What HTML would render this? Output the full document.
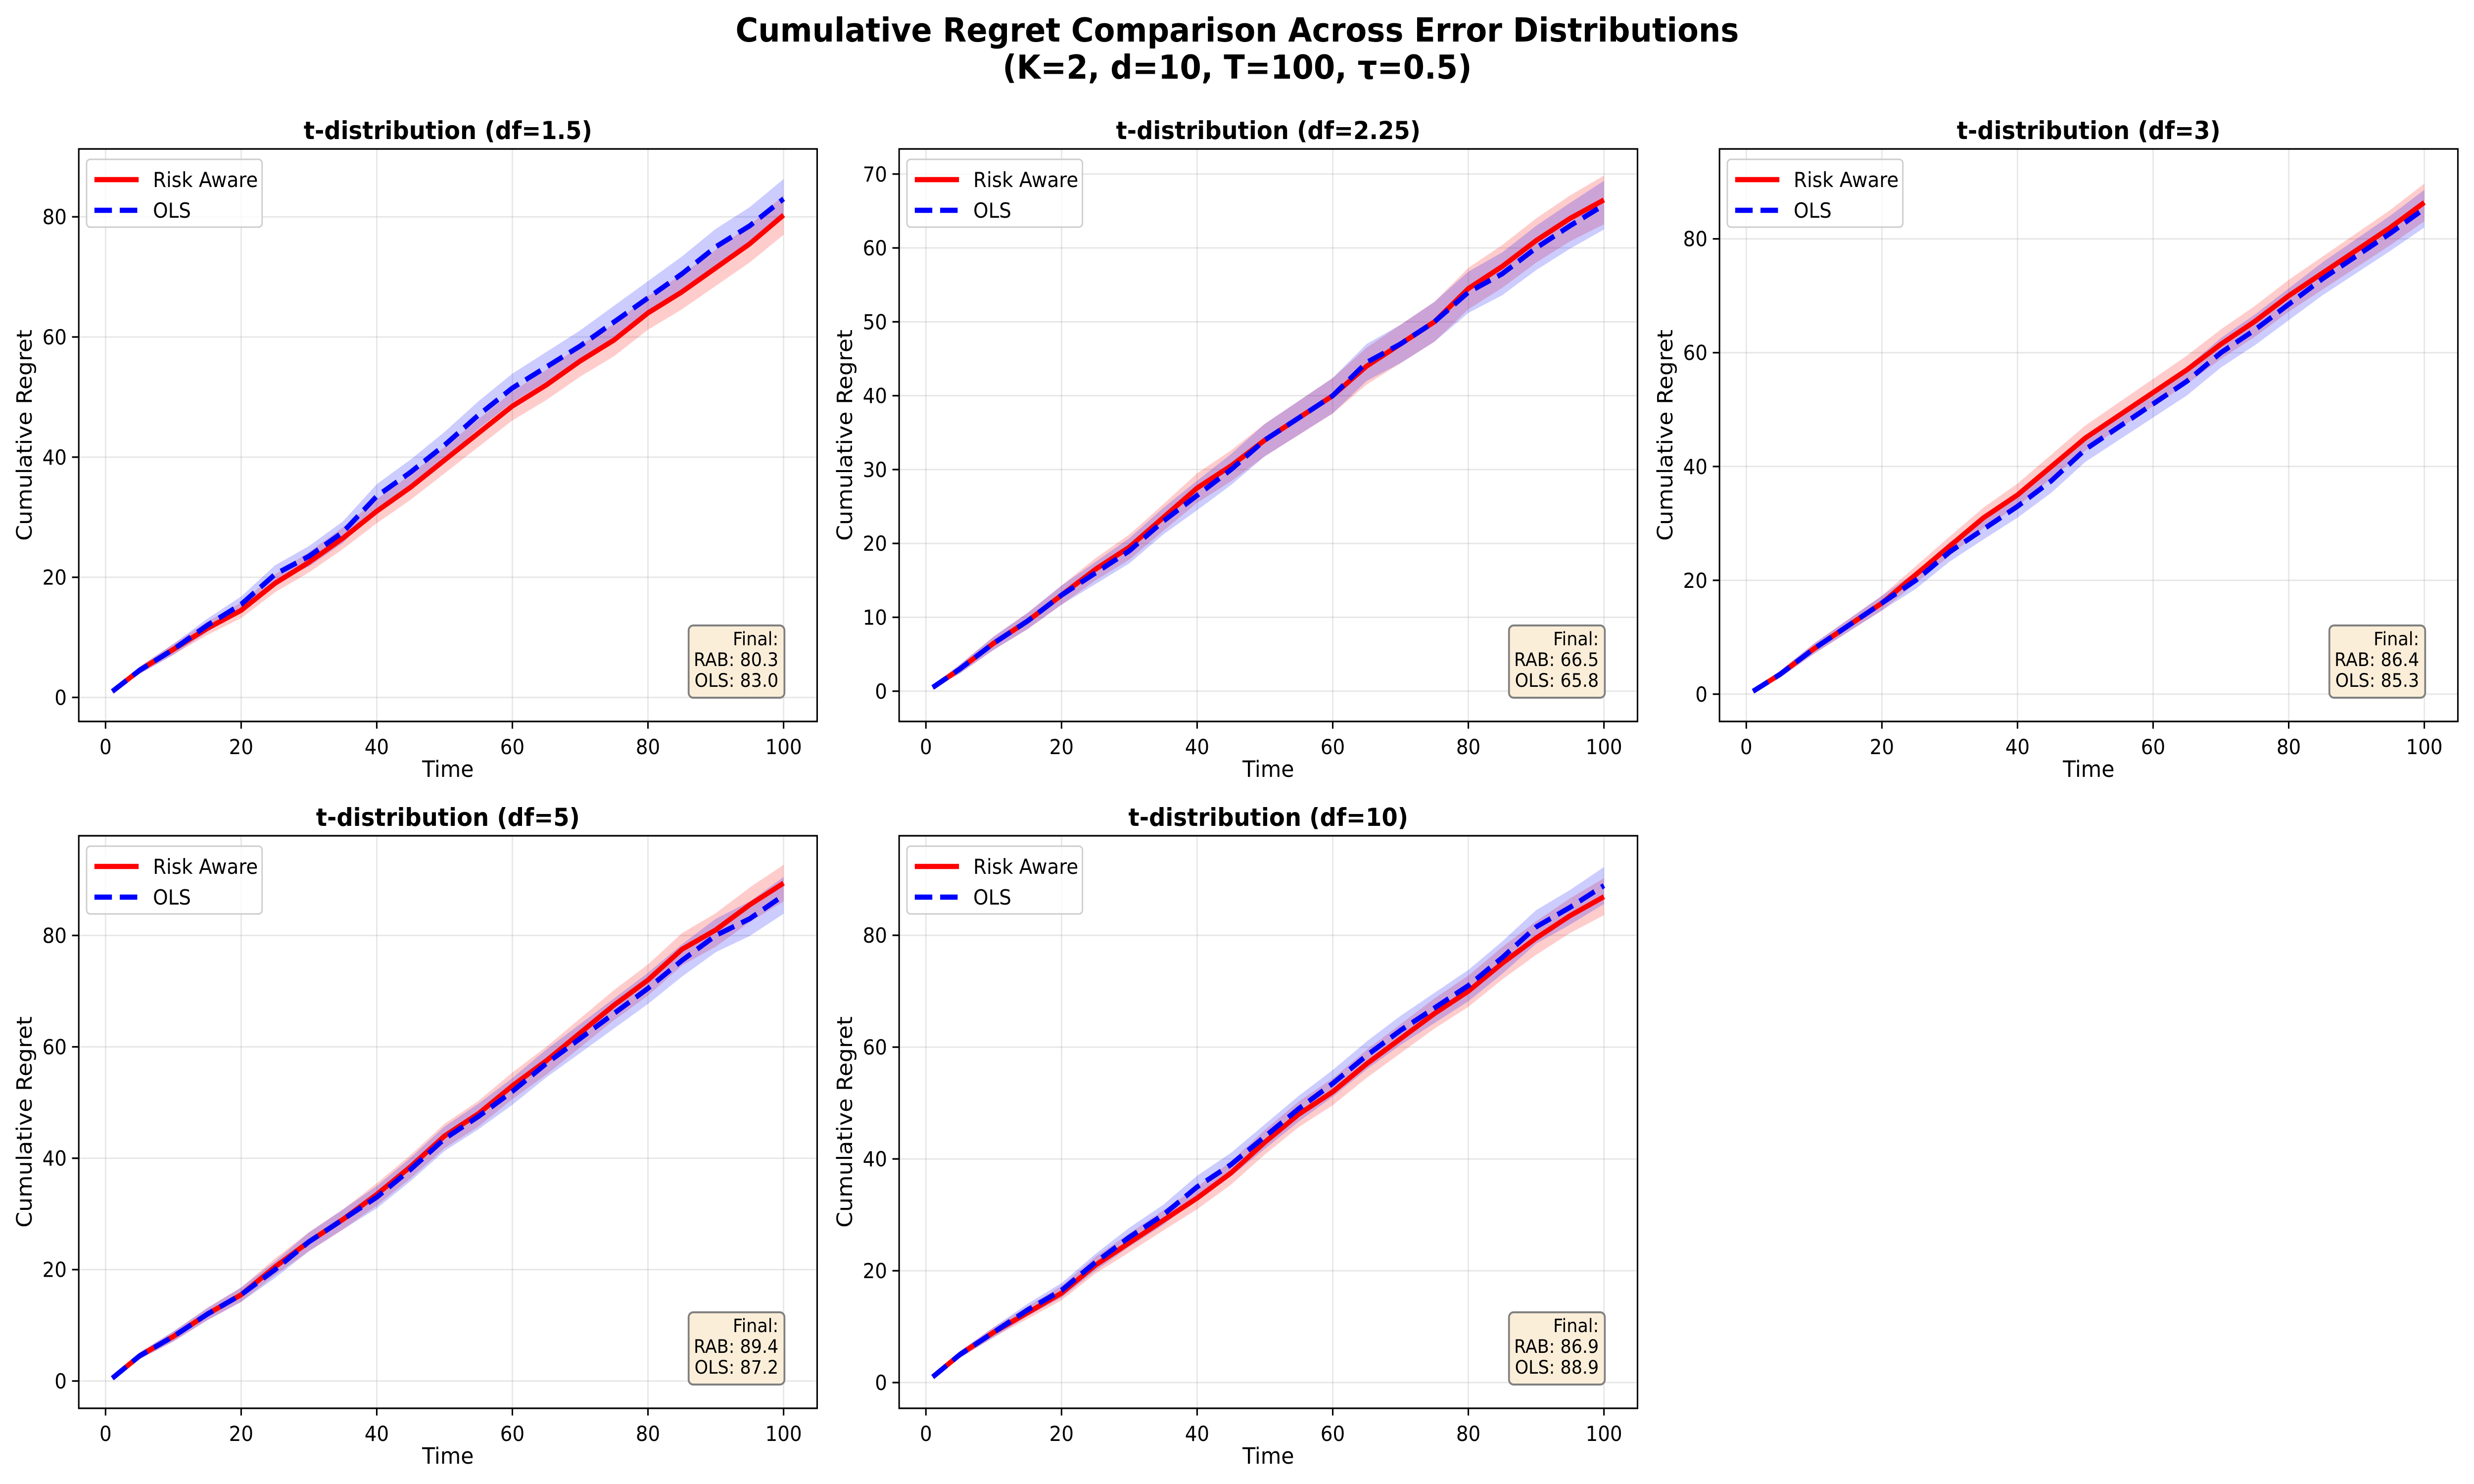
<!DOCTYPE html>
<html><head><meta charset="utf-8">
<style>
html,body{margin:0;padding:0;background:#fff;overflow:hidden;width:100%;height:100%;}
svg{display:block;width:100vw;height:100vh;font-family:"DejaVu Sans","Liberation Sans",sans-serif;}
</style></head>
<body>
<svg id="fig" viewBox="0 0 5371 2999" preserveAspectRatio="none" xmlns="http://www.w3.org/2000/svg">
<rect width="5371" height="2999" fill="#fff"/>
<text x="2686" y="84" text-anchor="middle" font-size="67" font-weight="bold">Cumulative Regret Comparison Across Error Distributions</text>
<text x="2686" y="159" text-anchor="middle" font-size="67" font-weight="bold">(K=2, d=10, T=100, τ=0.5)</text>
</svg>
<script>
const times = [1,5,10,15,20,25,30,35,40,45,50,55,60,65,70,75,80,85,90,95,100];
const titles = ["t-distribution (df=1.5)","t-distribution (df=2.25)","t-distribution (df=3)","t-distribution (df=5)","t-distribution (df=10)"];
const riskAware1 = [1,4.5,8,11.5,14.5,19,22.5,26.5,31,35,39.5,44,48.5,52,56,59.5,64,67.5,71.5,75.5,80.3];
const ols1 = [1,4.5,8,12,15.5,20.5,23.5,27.5,33.5,37.5,42,47,51.5,55,58.5,62.5,66.5,70.5,75,78.5,83.0];
const riskAware2 = [0.5,3,6.5,9.5,13,16.5,19.5,23.5,27.5,30.5,34,37,40,44,47,50,54.5,57.5,61,64,66.5];
const ols2 = [0.5,3,6.5,9.5,13,16,19,23,26.5,30,34,37,40,44.5,47,50,54,56.5,60,63,65.8];
const riskAware3 = [0.5,3.5,8,12,16,21,26,31,35,40,45,49,53,57,61.5,65.5,70,74,78,82,86.4];
const ols3 = [0.5,3.5,8,12,16,20,25,29,33,37.5,43,47,51,55,60,64,68.5,73,77,81,85.3];
const riskAware4 = [0.5,4.5,8,12,15.5,20.5,25,29,33.5,38.5,44,48,53,57.5,62.5,67.5,72,77.5,81,85.5,89.4];
const ols4 = [0.5,4.5,8,12,15.5,20,25,29,33,38,43.5,47.5,52,57,61.5,66,70.5,75.5,80,83,87.2];
const riskAware5 = [1,5,9,12.5,16,21,25,29,33,37.5,43,48,52,57,61.5,66,70,75,79.5,83.5,86.9];
const ols5 = [1,5,9,13,16.5,21.5,26,30,35,39,44,49,53.5,58.5,63,67,71,76,81.5,85,88.9];
const bandRA = [0.2,0.6,0.9,1.1,1.3,1.5,1.7,1.8,2.0,2.1,2.2,2.3,2.4,2.5,2.6,2.7,2.8,2.9,3.0,3.1,3.3];
const bandOLS = [0.2,0.6,0.9,1.1,1.3,1.5,1.7,1.8,2.0,2.1,2.2,2.3,2.4,2.5,2.6,2.7,2.8,2.9,3.0,3.1,3.3];
const finalRA = ["80.3","66.5","86.4","89.4","86.9"];
const finalOLS = ["83.0","65.8","85.3","87.2","88.9"];
const yTicks1 = [0,20,40,60,80];
const yTicks2 = [0,10,20,30,40,50,60,70];
const xTicks = [0,20,40,60,80,100];

const seriesRA = [riskAware1,riskAware2,riskAware3,riskAware4,riskAware5];
const seriesOLS = [ols1,ols2,ols3,ols4,ols5];
const yTickSets = [yTicks1,yTicks2,yTicks1,yTicks1,yTicks1];
const yLims = [[-4,91.3],[-4.1,73.4],[-4.8,95.8],[-4.9,97.9],[-4.6,97.8]];
const boxes = [[171,301,1774,1458],[1952,301,3555,1458],[3733,301,5336,1458],[171,1689,1774,2846],[1952,1689,3555,2846]];
const NS="http://www.w3.org/2000/svg";
const svg=document.getElementById('fig');
function el(tag,attrs,parent,text){const e=document.createElementNS(NS,tag);for(const k in attrs)e.setAttribute(k,attrs[k]);if(text!==undefined)e.textContent=text;(parent||svg).appendChild(e);return e;}

for(let p=0;p<5;p++){
  const [L,T,R,B]=boxes[p];
  const [y0,y1]=yLims[p];
  const xs=v=>L+(v+3.95)/(108.9)*(R-L);
  const ys=v=>B-(v-y0)/(y1-y0)*(B-T);
  const g=el('g',{});
  
  
  for(const t of xTicks){const l=el('line',{x1:xs(t),x2:xs(t),y1:T,y2:B,stroke:'#b0b0b0','stroke-opacity':0.3,'stroke-width':3},g);}
  for(const t of yTickSets[p]){const l=el('line',{x1:L,x2:R,y1:ys(t),y2:ys(t),stroke:'#b0b0b0','stroke-opacity':0.3,'stroke-width':3},g);}
  const mk=(arr,band,color,name)=>{
    let up=times.map((t,i)=>xs(t)+','+ys(arr[i]+band[i]));
    let dn=times.map((t,i)=>xs(t)+','+ys(arr[i]-band[i])).reverse();
    const poly=el('polygon',{points:up.concat(dn).join(' '),fill:color,'fill-opacity':0.2},g);
    
    
  };
  mk(seriesRA[p],bandRA,'#ff0000','risk-aware-band');
  mk(seriesOLS[p],bandOLS,'#0000ff','ols-band');
  const ra=el('polyline',{points:times.map((t,i)=>xs(t)+','+ys(seriesRA[p][i])).join(' '),fill:'none',stroke:'#ff0000','stroke-width':10.4,'stroke-linejoin':'round'},g);
  
  
  const ol=el('polyline',{points:times.map((t,i)=>xs(t)+','+ys(seriesOLS[p][i])).join(' '),fill:'none',stroke:'#0000ff','stroke-width':10.4,'stroke-dasharray':'38 17'},g);
  
  
  const fr=el('rect',{x:L,y:T,width:R-L,height:B-T,fill:'none',stroke:'#000','stroke-width':3.3},g);
  
  
  for(const t of xTicks){
    el('line',{x1:xs(t),x2:xs(t),y1:B,y2:B+14.6,stroke:'#000','stroke-width':3.3},g);
    const tx=el('text',{x:xs(t),y:B+66,'text-anchor':'middle','font-size':41.7},g,String(t));
    
    
  }
  for(const t of yTickSets[p]){
    el('line',{x1:L-14.6,x2:L,y1:ys(t),y2:ys(t),stroke:'#000','stroke-width':3.3},g);
    const ty=el('text',{x:L-26,y:ys(t)+15,'text-anchor':'end','font-size':41.7},g,String(t));
    
    
  }
  const tt=el('text',{x:(L+R)/2,y:T-20,'text-anchor':'middle','font-size':50,'font-weight':'bold'},g,titles[p]);
  
  
  const xl=el('text',{x:(L+R)/2,y:B+112,'text-anchor':'middle','font-size':45.8},g,'Time');
  
  
  const yx=L-102, yy=(T+B)/2;
  const yl=el('text',{x:yx,y:yy,'text-anchor':'middle','font-size':45.8,transform:'rotate(-90 '+yx+' '+yy+')'},g,'Cumulative Regret');
  
  
  const lg=el('g',{},g);
  
  
  el('rect',{x:L+17,y:T+21,width:381,height:137,rx:8,fill:'#fff','fill-opacity':0.8,stroke:'#cccccc','stroke-width':3},lg);
  el('line',{x1:L+34,x2:L+130,y1:T+62,y2:T+62,stroke:'#ff0000','stroke-width':10.4},lg);
  const le1=el('text',{x:L+161,y:T+77,'font-size':41.7},lg,'Risk Aware');
  
  
  el('line',{x1:L+34,x2:L+130,y1:T+124,y2:T+124,stroke:'#0000ff','stroke-width':10.4,'stroke-dasharray':'38 17'},lg);
  const le2=el('text',{x:L+161,y:T+139,'font-size':41.7},lg,'OLS');
  
  
  const fb=el('g',{},g);
  
  
  el('rect',{x:R-279,y:B-194,width:208,height:146,rx:10,fill:'#faeed9',stroke:'#808080','stroke-width':4},fb);
  el('text',{x:R-84,y:B-154,'text-anchor':'end','font-size':37.5},fb,'Final:');
  el('text',{x:R-84,y:B-112,'text-anchor':'end','font-size':37.5},fb,'RAB: '+finalRA[p]);
  el('text',{x:R-84,y:B-70,'text-anchor':'end','font-size':37.5},fb,'OLS: '+finalOLS[p]);
}
</script>
</body></html>
